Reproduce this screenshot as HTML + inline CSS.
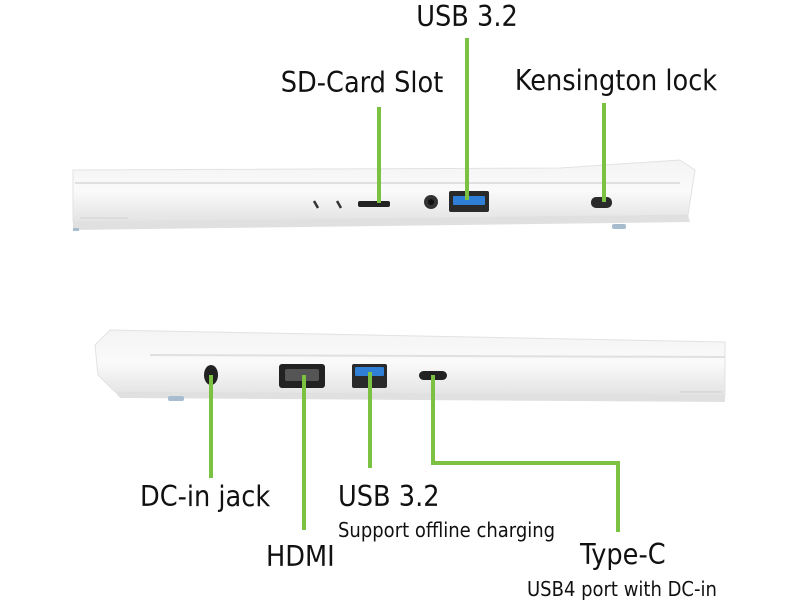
<!DOCTYPE html>
<html><head><meta charset="utf-8"><style>
html,body{margin:0;padding:0;background:#fff;width:800px;height:600px;overflow:hidden}
text{font-family:"DejaVu Sans Condensed","Liberation Sans Narrow","Liberation Sans",sans-serif;fill:#111}
</style></head><body>
<svg width="800" height="600" viewBox="0 0 800 600" xmlns="http://www.w3.org/2000/svg">
<defs>
<linearGradient id="b1" x1="0" y1="0" x2="0" y2="1">
<stop offset="0" stop-color="#f4f4f4"/><stop offset="0.5" stop-color="#fafafa"/><stop offset="1" stop-color="#e3e3e3"/>
</linearGradient>
</defs>
<path d="M73 170 L560 168 L680 160 L695 170 L688 215 L73 222 Z" fill="url(#b1)" stroke="#e2e2e2"/>
<line x1="75" y1="183" x2="680" y2="183" stroke="#e0e0e0" stroke-width="2"/>
<path d="M73 222 L688 215 L690 222 L73 230 Z" fill="#e0e0e0"/>
<rect x="73" y="228" width="6" height="3" fill="#a8bcd0"/>
<rect x="612" y="224" width="14" height="5" rx="2" fill="#a8bcd0"/>
<line x1="80" y1="218" x2="128" y2="218" stroke="#cfcfcf"/>
<line x1="314" y1="201" x2="318" y2="208" stroke="#333" stroke-width="2.5"/>
<line x1="337" y1="201" x2="341" y2="208" stroke="#333" stroke-width="2.5"/>
<rect x="358" y="201" width="32" height="6" rx="2" fill="#222"/>
<circle cx="431" cy="202" r="7" fill="#333"/><circle cx="431" cy="202" r="3" fill="#111"/>
<rect x="449" y="191" width="40" height="21" rx="2" fill="#2a2a2a"/>
<rect x="453" y="196" width="32" height="9" rx="1" fill="#2f7fd6"/>
<rect x="591" y="197" width="21" height="11" rx="5" fill="#2a2a2a"/>
<path d="M95 345 L110 330 L725 342 L725 395 L115 392 L98 375 Z" fill="url(#b1)" stroke="#e2e2e2"/>
<line x1="150" y1="355" x2="725" y2="357" stroke="#e0e0e0" stroke-width="2"/>
<path d="M115 392 L725 395 L725 402 L120 398 Z" fill="#e0e0e0"/>
<rect x="168" y="396" width="16" height="5" rx="2" fill="#a8bcd0"/>
<line x1="680" y1="392" x2="722" y2="392" stroke="#cfcfcf"/>
<ellipse cx="211" cy="375" rx="7" ry="10" fill="#222"/>
<rect x="279" y="364" width="46" height="24" rx="3" fill="#222"/>
<rect x="285" y="369" width="34" height="12" rx="2" fill="#555"/>
<rect x="352" y="364" width="35" height="24" rx="2" fill="#2a2a2a"/>
<rect x="355" y="367" width="29" height="9" rx="1" fill="#2f7fd6"/>
<rect x="419" y="371" width="28" height="9" rx="4.5" fill="#222"/>
<g stroke="#7cc242" stroke-width="4" fill="none">
<line x1="379" y1="107" x2="379" y2="203"/>
<line x1="467" y1="38" x2="467" y2="200"/>
<line x1="604" y1="103" x2="604" y2="202"/>
<line x1="211" y1="375" x2="211" y2="478"/>
<line x1="304" y1="375" x2="304" y2="530"/>
<line x1="370" y1="372" x2="370" y2="468"/>
<polyline points="433,375 433,463 618,463 618,532"/>
</g>
<g font-size="28.5">
<text x="467" y="26" text-anchor="middle">USB 3.2</text>
<text x="362" y="92" text-anchor="middle">SD-Card Slot</text>
<text x="616" y="90" text-anchor="middle">Kensington lock</text>
<text x="140" y="506">DC-in jack</text>
<text x="338" y="506">USB 3.2</text>
<text x="266" y="566">HDMI</text>
<text x="580" y="564">Type-C</text>
</g>
<g font-size="20">
<text x="338" y="537">Support offline charging</text>
<text x="527" y="596">USB4 port with DC-in</text>
</g>
</svg>
</body></html>
